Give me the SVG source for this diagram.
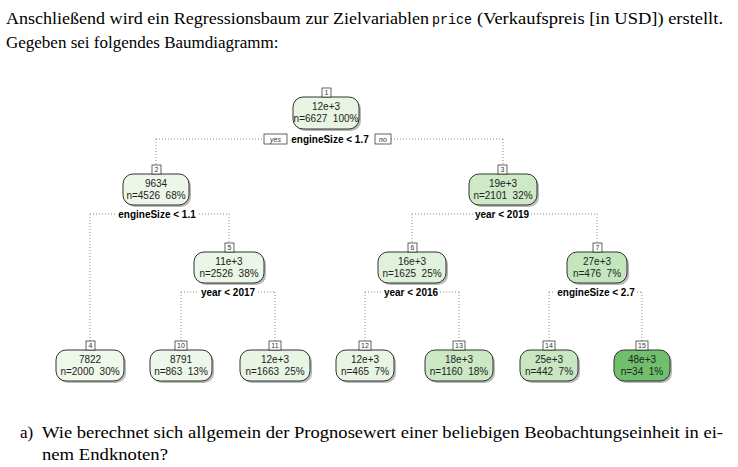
<svg xmlns="http://www.w3.org/2000/svg" width="738" height="467" viewBox="0 0 738 467">
<style>
.nt{font-family:'Liberation Sans',sans-serif;font-size:10px;fill:#222;text-anchor:middle}
.sp{font-family:'Liberation Sans',sans-serif;font-size:10px;font-weight:bold;fill:#000;text-anchor:middle}
.lb{font-family:'Liberation Sans',sans-serif;font-size:7px;fill:#333;text-anchor:middle}
.yn{font-family:'Liberation Sans',sans-serif;font-size:7px;font-style:italic;fill:#333;text-anchor:middle}
.lbb{fill:#fff;stroke:#222;stroke-width:0.7}
.sh{fill:#b8b8b8}
.bx{stroke:#333;stroke-width:1}
.cn{fill:none;stroke:#8a8a8a;stroke-width:1;stroke-dasharray:1 2}
</style>
<rect width="738" height="467" fill="#fff"/>
<g id="header" font-family="Liberation Serif, serif" font-size="17">
<text x="6" y="24" textLength="423" lengthAdjust="spacingAndGlyphs">Anschließend wird ein Regressionsbaum zur Zielvariablen</text>
<text x="432" y="24" font-family="Liberation Mono, monospace" font-size="15" textLength="40" lengthAdjust="spacingAndGlyphs">price</text>
<text x="477" y="24" textLength="246" lengthAdjust="spacingAndGlyphs">(Verkaufspreis [in USD]) erstellt.</text>
<text x="6" y="48">Gegeben sei folgendes Baumdiagramm:</text>
</g>
<g id="connectors">
<path class="cn" d="M156,139 H264 M391,139 H503 M156,139 V165 M503,139 V165"/>
<path class="cn" d="M90,214 H116 M199,214 H229 M90,214 V341 M229,214 V243"/>
<path class="cn" d="M181,292 H198 M258,292 H275 M181,292 V341 M275,292 V341"/>
<path class="cn" d="M412,214 H474 M531,214 H597 M412,214 V243 M597,214 V243"/>
<path class="cn" d="M365,292 H382 M440,292 H459 M365,292 V341 M459,292 V341"/>
<path class="cn" d="M549,292 H555 M637,292 H642 M549,292 V341 M642,292 V341"/>
</g>
<g id="splits">
<rect class="lbb" x="264" y="134" width="23" height="10"/>
<text class="yn" x="275.5" y="141.5">yes</text>
<text class="sp" x="330" y="142.5">engineSize &lt; 1.7</text>
<rect class="lbb" x="375" y="134" width="16" height="10"/>
<text class="yn" x="383" y="141.5">no</text>
<text class="sp" x="157" y="217.5">engineSize &lt; 1.1</text>
<text class="sp" x="228" y="295.5">year &lt; 2017</text>
<text class="sp" x="502" y="217.5">year &lt; 2019</text>
<text class="sp" x="411" y="295.5">year &lt; 2016</text>
<text class="sp" x="596" y="295.5">engineSize &lt; 2.7</text>
</g>
<g id="node1">
<rect class="sh" x="295" y="99" width="66" height="32" rx="10"/>
<rect class="bx" x="293" y="97" width="66" height="32" rx="10" fill="#e7f5e2"/>
<rect class="lbb" x="322" y="88" width="9" height="9"/><text class="lb" x="326.5" y="95">1</text>
<text class="nt" x="326" y="110">12e+3</text><text class="nt" x="326" y="122">n=6627&#160; 100%</text>
</g>
<g id="node2">
<rect class="sh" x="125" y="176" width="66" height="31" rx="10"/>
<rect class="bx" x="123" y="174" width="66" height="31" rx="10" fill="#edf7e9"/>
<rect class="lbb" x="152" y="165" width="9" height="9"/><text class="lb" x="156.5" y="172">2</text>
<text class="nt" x="156" y="187">9634</text><text class="nt" x="156" y="199">n=4526&#160; 68%</text>
</g>
<g id="node3">
<rect class="sh" x="471" y="176" width="68" height="31" rx="10"/>
<rect class="bx" x="469" y="174" width="68" height="31" rx="10" fill="#cde9c6"/>
<rect class="lbb" x="498" y="165" width="9" height="9"/><text class="lb" x="502.5" y="172">3</text>
<text class="nt" x="503" y="187">19e+3</text><text class="nt" x="503" y="199">n=2101&#160; 32%</text>
</g>
<g id="node5">
<rect class="sh" x="196" y="254" width="70" height="31" rx="10"/>
<rect class="bx" x="194" y="252" width="70" height="31" rx="10" fill="#eaf6e6"/>
<rect class="lbb" x="225" y="243" width="9" height="9"/><text class="lb" x="229.5" y="250">5</text>
<text class="nt" x="229" y="265">11e+3</text><text class="nt" x="229" y="277">n=2526&#160; 38%</text>
</g>
<g id="node6">
<rect class="sh" x="380" y="254" width="68" height="31" rx="10"/>
<rect class="bx" x="378" y="252" width="68" height="31" rx="10" fill="#e0f2db"/>
<rect class="lbb" x="408" y="243" width="9" height="9"/><text class="lb" x="412.5" y="250">6</text>
<text class="nt" x="412" y="265">16e+3</text><text class="nt" x="412" y="277">n=1625&#160; 25%</text>
</g>
<g id="node7">
<rect class="sh" x="569" y="254" width="60" height="31" rx="10"/>
<rect class="bx" x="567" y="252" width="60" height="31" rx="10" fill="#c4e6bc"/>
<rect class="lbb" x="593" y="243" width="9" height="9"/><text class="lb" x="597.5" y="250">7</text>
<text class="nt" x="597" y="265">27e+3</text><text class="nt" x="597" y="277">n=476&#160; 7%</text>
</g>
<g id="node4">
<rect class="sh" x="58" y="352" width="68" height="31" rx="10"/>
<rect class="bx" x="56" y="350" width="68" height="31" rx="10" fill="#eef8eb"/>
<rect class="lbb" x="86" y="341" width="9" height="9"/><text class="lb" x="90.5" y="348">4</text>
<text class="nt" x="90" y="363">7822</text><text class="nt" x="90" y="375">n=2000&#160; 30%</text>
</g>
<g id="node10">
<rect class="sh" x="152" y="352" width="62" height="31" rx="10"/>
<rect class="bx" x="150" y="350" width="62" height="31" rx="10" fill="#edf7ea"/>
<rect class="lbb" x="175" y="341" width="12" height="9"/><text class="lb" x="181" y="348">10</text>
<text class="nt" x="181" y="363">8791</text><text class="nt" x="181" y="375">n=863&#160; 13%</text>
</g>
<g id="node11">
<rect class="sh" x="242" y="352" width="70" height="31" rx="10"/>
<rect class="bx" x="240" y="350" width="70" height="31" rx="10" fill="#e8f5e3"/>
<rect class="lbb" x="269" y="341" width="12" height="9"/><text class="lb" x="275" y="348">11</text>
<text class="nt" x="275" y="363">12e+3</text><text class="nt" x="275" y="375">n=1663&#160; 25%</text>
</g>
<g id="node12">
<rect class="sh" x="338" y="352" width="58" height="31" rx="10"/>
<rect class="bx" x="336" y="350" width="58" height="31" rx="10" fill="#e8f5e3"/>
<rect class="lbb" x="359" y="341" width="12" height="9"/><text class="lb" x="365" y="348">12</text>
<text class="nt" x="365" y="363">12e+3</text><text class="nt" x="365" y="375">n=465&#160; 7%</text>
</g>
<g id="node13">
<rect class="sh" x="427" y="352" width="68" height="31" rx="10"/>
<rect class="bx" x="425" y="350" width="68" height="31" rx="10" fill="#cbe9c4"/>
<rect class="lbb" x="453" y="341" width="12" height="9"/><text class="lb" x="459" y="348">13</text>
<text class="nt" x="459" y="363">18e+3</text><text class="nt" x="459" y="375">n=1160&#160; 18%</text>
</g>
<g id="node14">
<rect class="sh" x="522" y="352" width="58" height="31" rx="10"/>
<rect class="bx" x="520" y="350" width="58" height="31" rx="10" fill="#c8e7c0"/>
<rect class="lbb" x="543" y="341" width="12" height="9"/><text class="lb" x="549" y="348">14</text>
<text class="nt" x="549" y="363">25e+3</text><text class="nt" x="549" y="375">n=442&#160; 7%</text>
</g>
<g id="node15">
<rect class="sh" x="616" y="352" width="56" height="31" rx="10"/>
<rect class="bx" x="614" y="350" width="56" height="31" rx="10" fill="#70bf6c"/>
<rect class="lbb" x="636" y="341" width="12" height="9"/><text class="lb" x="642" y="348">15</text>
<text class="nt" x="642" y="363">48e+3</text><text class="nt" x="642" y="375">n=34&#160; 1%</text>
</g>
<g id="footer" font-family="Liberation Serif, serif" font-size="17">
<text x="20" y="438">a)</text>
<text x="42" y="438" textLength="681" lengthAdjust="spacingAndGlyphs">Wie berechnet sich allgemein der Prognosewert einer beliebigen Beobachtungseinheit in ei-</text>
<text x="42" y="460" textLength="126" lengthAdjust="spacingAndGlyphs">nem Endknoten?</text>
</g>
</svg>
